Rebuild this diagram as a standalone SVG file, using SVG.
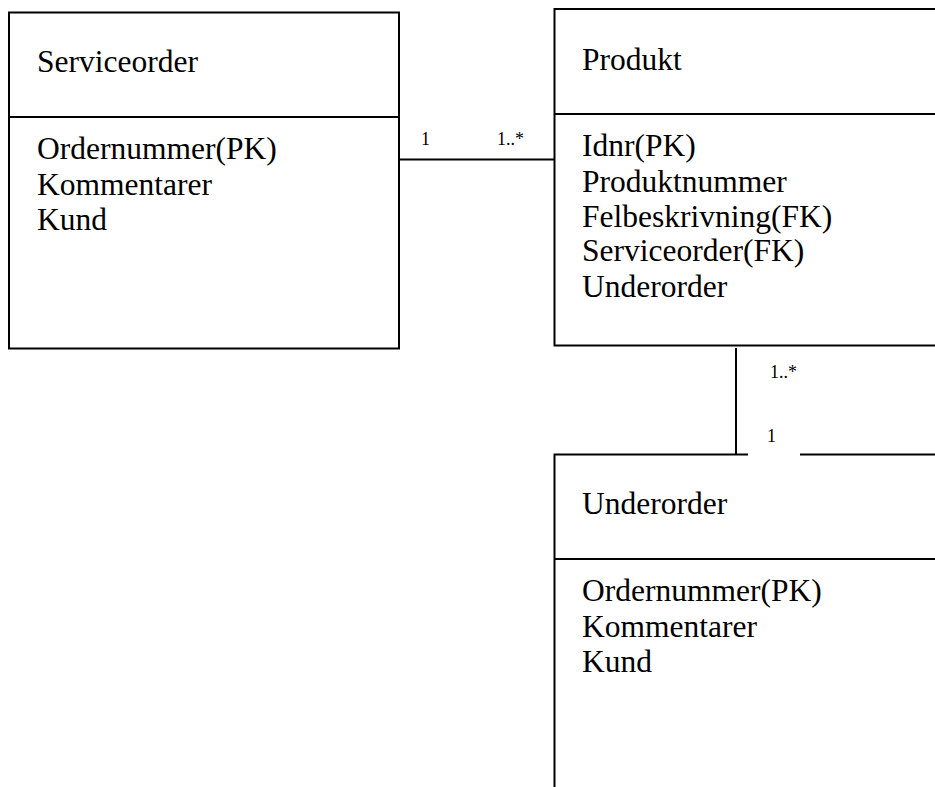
<svg xmlns="http://www.w3.org/2000/svg" width="935" height="787" viewBox="0 0 935 787">
<style>
.box{fill:none;stroke:#000;stroke-width:2}
.t{font-family:"Liberation Serif","Times New Roman",serif;font-size:31.5px;fill:#000}
.m{font-family:"Liberation Serif","Times New Roman",serif;font-size:18px;fill:#000}
.c{stroke:#000;stroke-width:2;fill:none}
</style>
<rect width="935" height="787" fill="#fff"/>
<g id="serviceorder">
<rect class="box" x="9" y="12.5" width="390" height="336"/>
<line class="box" x1="9" y1="117" x2="399" y2="117"/>
<text class="t" x="37" y="72">Serviceorder</text>
<text class="t" x="37" y="159">Ordernummer(PK)</text>
<text class="t" x="37" y="194.5">Kommentarer</text>
<text class="t" x="37" y="230">Kund</text>
</g>
<g id="produkt">
<rect class="box" x="554.5" y="9" width="400" height="336.5"/>
<line class="box" x1="554.5" y1="114" x2="940" y2="114"/>
<text class="t" x="582" y="70">Produkt</text>
<text class="t" x="582" y="156">Idnr(PK)</text>
<text class="t" x="582" y="191.5">Produktnummer</text>
<text class="t" x="582" y="226.5">Felbeskrivning(FK)</text>
<text class="t" x="582" y="261">Serviceorder(FK)</text>
<text class="t" x="582" y="296.5">Underorder</text>
</g>
<g id="underorder">
<path class="box" d="M940 454.5 H800 M748 454.5 H554.5 V800"/>
<line class="box" x1="554.5" y1="559" x2="940" y2="559"/>
<text class="t" x="582" y="514">Underorder</text>
<text class="t" x="582" y="601">Ordernummer(PK)</text>
<text class="t" x="582" y="636.5">Kommentarer</text>
<text class="t" x="582" y="672">Kund</text>
</g>
<g id="connectors">
<line class="c" x1="399" y1="159.5" x2="477" y2="159.5"/>
<line class="c" x1="477" y1="159.5" x2="554.5" y2="159.5" stroke-width="1.5"/>
<text class="m" x="421" y="145">1</text>
<text class="m" x="497" y="145">1..*</text>
<line class="c" x1="736" y1="348" x2="736" y2="455"/>
<text class="m" x="770" y="378">1..*</text>
<text class="m" x="767" y="442">1</text>
</g>
</svg>
